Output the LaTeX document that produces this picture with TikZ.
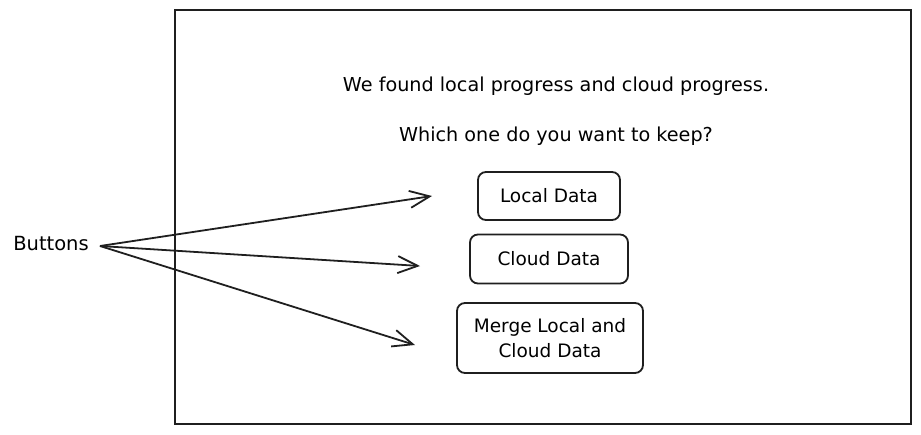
\documentclass[tikz,border=0pt]{standalone}
\usepackage{fontspec}
\setmainfont{DejaVu Sans}
\usetikzlibrary{arrows.meta}
\tikzset{
  btn/.style={draw=black!88, line width=1.8pt, rounded corners=8pt, inner sep=0pt, align=center, font=\fontsize{18.5}{25}\selectfont},
  msg/.style={inner sep=0pt, font=\fontsize{19.2}{22}\selectfont},
  pointer/.style={draw=black!88, line width=1.8pt, -{Straight Barb[length=20pt,width=17pt,line width=1.8pt]}},
}
\begin{document}
\begin{tikzpicture}[x=1pt,y=-1pt]
\useasboundingbox (0,0) rectangle (921,434);
\node[draw=black!88, line width=2.2pt, minimum width=736pt, minimum height=414pt, inner sep=0pt] (frame) at (543,217) {};
\node[msg] (t1) at (556,86) {We found local progress and cloud progress.};
\node[msg] (t2) at (556,136) {Which one do you want to keep?};
\node[btn, minimum width=142pt, minimum height=48pt] (local) at (549,196) {Local Data};
\node[btn, minimum width=158pt, minimum height=49pt] (cloud) at (549,259) {Cloud Data};
\node[btn, minimum width=186pt, minimum height=70pt] (merge) at (550,338) {Merge Local and\\Cloud Data};
\node[msg, font=\fontsize{19.5}{22}\selectfont] (buttons) at (51,244) {Buttons};
\coordinate (src) at (100,246);
\coordinate (e1) at (432,196);
\coordinate (e2) at (420,266);
\coordinate (e3) at (415,345);
\draw[pointer] (src) -- (e1);
\draw[pointer] (src) -- (e2);
\draw[pointer] (src) -- (e3);
\end{tikzpicture}
\end{document}
